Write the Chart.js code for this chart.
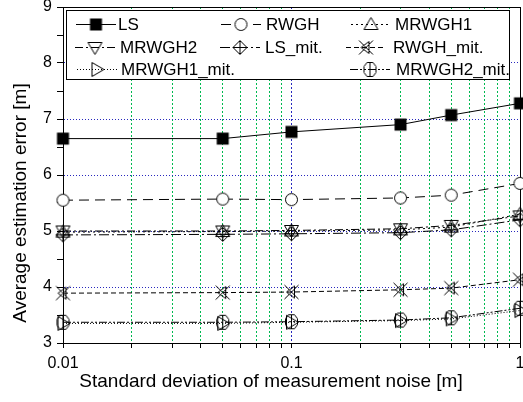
<!DOCTYPE html>
<html>
<head>
<meta charset="utf-8">
<script src="https://cdn.jsdelivr.net/npm/chart.js"></script>
<style>
html, body { margin: 0; padding: 0; background: #fff; overflow: hidden; }
#caixa { width: 540px; height: 402px; }
</style>
</head>
<body>
<div id="caixa"><canvas id="graficoErro"></canvas></div>
<script>
// dados
const noiseStd = [0.01, 0.05, 0.1, 0.3, 0.5, 1];
const errLS = [6.65, 6.65, 6.77, 6.90, 7.07, 7.28];
const errRWGH = [5.55, 5.57, 5.56, 5.59, 5.64, 5.85];
const errMRWGH1 = [4.98, 4.99, 5.00, 5.02, 5.07, 5.30];
const errMRWGH2 = [5.00, 5.00, 5.01, 5.04, 5.10, 5.27];
const errLSmit = [4.93, 4.94, 4.95, 4.97, 5.02, 5.20];
const errRWGHmit = [3.89, 3.90, 3.91, 3.95, 3.98, 4.13];
const errMRWGH1mit = [3.35, 3.35, 3.37, 3.40, 3.43, 3.58];
const errMRWGH2mit = [3.37, 3.37, 3.38, 3.41, 3.45, 3.62];
const xTicks = [0.01, 0.02, 0.03, 0.04, 0.05, 0.06, 0.07, 0.08, 0.09,
                0.1, 0.2, 0.3, 0.4, 0.5, 0.6, 0.7, 0.8, 0.9, 1];
const xTickLabels = ['0.01', '0.1', '1'];
const yMin = 3, yMax = 9;

const fonte = '"Liberation Sans", Arial, sans-serif';

// marcadores desenhados à mão, estilo Origin
function marcador(tipo) {
    const c = document.createElement('canvas');
    c.width = 17; c.height = 17;
    const g = c.getContext('2d');
    g.translate(8.5, 8.5);
    g.lineWidth = 1;
    g.strokeStyle = '#000';
    g.fillStyle = '#fff';
    g.beginPath();
    if (tipo === 'quadrado') {
        g.fillStyle = '#000';
        g.fillRect(-6, -6, 12, 12);
    } else if (tipo === 'circulo') {
        g.arc(0, 0, 6, 0, 2 * Math.PI);
        g.fill(); g.stroke();
    } else if (tipo === 'cima') {
        g.moveTo(0, -7); g.lineTo(7, 5); g.lineTo(-7, 5); g.closePath(); g.stroke();
    } else if (tipo === 'baixo') {
        g.moveTo(0, 7); g.lineTo(7, -5); g.lineTo(-7, -5); g.closePath(); g.stroke();
    } else if (tipo === 'losango') {
        g.moveTo(0, -7); g.lineTo(7, 0); g.lineTo(0, 7); g.lineTo(-7, 0); g.closePath();
        g.moveTo(0, -7); g.lineTo(0, 7); g.moveTo(-7, 0); g.lineTo(7, 0); g.stroke();
    } else if (tipo === 'xis') {
        g.moveTo(-7, -7); g.lineTo(7, 7); g.moveTo(7, -7); g.lineTo(-7, 7);
        g.moveTo(3, -6); g.lineTo(3, 6); g.lineTo(-5, 0); g.closePath(); g.stroke();
    } else if (tipo === 'direita') {
        g.moveTo(7, 0); g.lineTo(-5, -7); g.lineTo(-5, 7); g.closePath(); g.stroke();
    } else if (tipo === 'hexagono') {
        g.moveTo(-3, -7); g.lineTo(3, -7); g.lineTo(6, -3); g.lineTo(6, 3); g.lineTo(3, 7);
        g.lineTo(-3, 7); g.lineTo(-6, 3); g.lineTo(-6, -3); g.closePath();
        g.moveTo(0, -7); g.lineTo(0, 7); g.stroke();
    }
    return c;
}

function serie(nome, valores, tipo, traco) {
    return {
        label: nome,
        data: valores.map((v, i) => ({ x: noiseStd[i], y: v })),
        borderColor: '#000',
        backgroundColor: '#000',
        borderWidth: 1,
        borderDash: traco,
        pointStyle: marcador(tipo),
        pointRadius: 6,
        clip: false
    };
}

const conjuntos = [
    serie('LS', errLS, 'quadrado', []),
    serie('RWGH', errRWGH, 'circulo', [10, 6]),
    serie('MRWGH1', errMRWGH1, 'cima', [2, 3]),
    serie('MRWGH2', errMRWGH2, 'baixo', [8, 3, 2, 3]),
    serie('LS_mit.', errLSmit, 'losango', [10, 3, 2, 3]),
    serie('RWGH_mit.', errRWGHmit, 'xis', [5, 3]),
    serie('MRWGH1_mit.', errMRWGH1mit, 'direita', [1, 2]),
    serie('MRWGH2_mit.', errMRWGH2mit, 'hexagono', [8, 2, 2, 2, 2, 2])
];

// posição de cada item da legenda: [marcador x, texto x, linha y]
const slots = [[96, 118, 24], [241, 266, 24], [371, 395, 24],
               [95, 120, 47], [240, 265, 47], [366, 393, 47],
               [97, 121, 69], [370, 396, 69]];

const moldura = {
    id: 'moldura',
    beforeDatasetsDraw(chart) {
        const a = chart.chartArea;
        const ctx = chart.ctx;
        ctx.save();
        ctx.strokeStyle = '#000';
        ctx.lineWidth = 1;
        ctx.strokeRect(Math.round(a.left) + 0.5, Math.round(a.top) + 0.5,
            Math.round(a.right - a.left), Math.round(a.bottom - a.top));
        ctx.restore();
    },
    afterDraw(chart) {
        const ctx = chart.ctx;
        ctx.save();
        // legenda interna
        ctx.fillStyle = '#fff';
        ctx.fillRect(66, 10, 443, 69);
        ctx.strokeStyle = '#000';
        ctx.lineWidth = 1;
        ctx.strokeRect(66.5, 10.5, 443, 69);
        ctx.font = '17px ' + fonte;
        ctx.textBaseline = 'middle';
        ctx.textAlign = 'left';
        chart.data.datasets.forEach((ds, i) => {
            const [mx, tx, y] = slots[i];
            ctx.beginPath();
            ctx.setLineDash(ds.borderDash);
            ctx.moveTo(mx - 20, y + 0.5);
            ctx.lineTo(mx + 20, y + 0.5);
            ctx.stroke();
            ctx.setLineDash([]);
            ctx.drawImage(ds.pointStyle, mx - 8.5, y - 8);
            ctx.fillStyle = '#000';
            ctx.fillText(ds.label, tx, y + 1);
        });
        // títulos dos eixos
        ctx.font = '19px ' + fonte;
        ctx.textAlign = 'center';
        ctx.textBaseline = 'alphabetic';
        ctx.fillText('Standard deviation of measurement noise [m]', 271, 387);
        ctx.translate(26, 203);
        ctx.rotate(-Math.PI / 2);
        ctx.fillText('Average estimation error [m]', 0, 0);
        ctx.restore();
    }
};

const ctxErro = document.getElementById('graficoErro').getContext('2d');
const graficoErro = new Chart(ctxErro, {
    type: 'line',
    data: { datasets: conjuntos },
    plugins: [moldura],
    options: {
        responsive: true,
        maintainAspectRatio: false,
        animation: false,
        layout: { padding: { left: 0, top: 7, right: 20, bottom: 0 } },
        plugins: {
            legend: { display: false },
            tooltip: { enabled: false }
        },
        scales: {
            x: {
                type: 'logarithmic',
                min: 0.01,
                max: 1,
                afterBuildTicks: s => { s.ticks = xTicks.map(v => ({ value: v })); },
                afterFit: s => { s.height = 59; s.paddingLeft = 0; s.paddingRight = 0; },
                ticks: {
                    autoSkip: false,
                    maxRotation: 0,
                    padding: 6,
                    color: '#000',
                    font: { family: fonte, size: 16 },
                    callback: v => {
                        const t = xTickLabels.find(l => Math.abs(parseFloat(l) - v) < 1e-9);
                        return t || '';
                    }
                },
                grid: {
                    color: c => (c.tick && [0.01, 0.1, 1].some(m => Math.abs(m - c.tick.value) < 1e-9))
                        ? 'rgb(40,40,190)' : 'rgb(0,185,80)',
                    lineWidth: 1,
                    tickLength: 5,
                    tickColor: '#000',
                    tickBorderDash: []
                },
                border: { display: true, color: '#000', width: 1, dash: [2, 2] }
            },
            y: {
                min: yMin,
                max: yMax,
                afterFit: s => { s.width = 63; s.paddingTop = 0; s.paddingBottom = 0; },
                ticks: {
                    stepSize: 0.5,
                    padding: 5,
                    color: '#000',
                    font: { family: fonte, size: 16 },
                    callback: v => Number.isInteger(v) ? String(v) : ''
                },
                grid: {
                    color: c => (c.tick && Number.isInteger(c.tick.value)) ? 'rgb(40,40,190)' : 'rgba(0,0,0,0)',
                    lineWidth: 1,
                    tickLength: 6,
                    tickColor: '#000',
                    tickBorderDash: []
                },
                border: { display: true, color: '#000', width: 1, dash: [1, 2] }
            }
        }
    }
});
</script>
</body>
</html>
